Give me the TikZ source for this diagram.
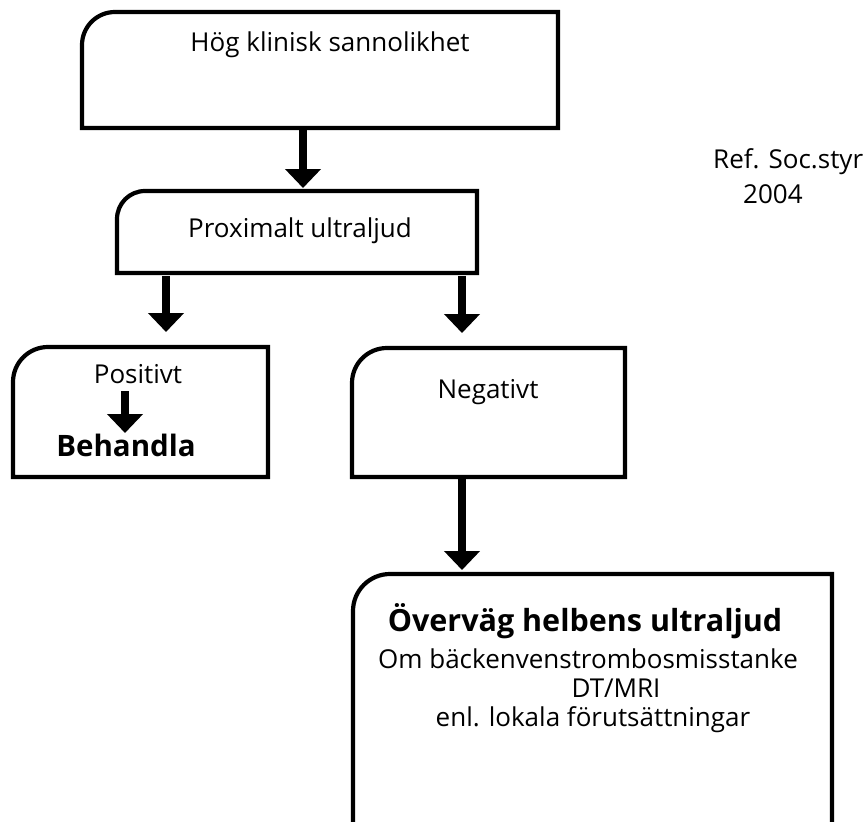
\documentclass[tikz,border=0pt]{standalone}
\usepackage{fontspec}
\setmainfont{Open Sans}
\usetikzlibrary{arrows.meta}

% outline of a box whose top-left corner alone is rounded
\newcommand{\cornerbox}[2]{%
  \draw[boxline] (#1.south west) -- ([yshift=-#2]#1.north west)
    arc[start angle=180, end angle=90, radius=#2]
    -- (#1.north east) -- (#1.south east) -- cycle;}

\begin{document}
\begin{tikzpicture}[x=1pt, y=-1pt,
  boxarea/.style={rectangle, inner sep=0pt, outer sep=0pt},
  boxline/.style={line width=4.2pt, line join=miter},
  txt/.style={anchor=base, inner sep=0pt, font=\fontsize{26}{30}\selectfont},
  btxt/.style={anchor=base, inner sep=0pt, font=\fontsize{29.5}{34}\selectfont\bfseries},
  ttltxt/.style={anchor=base, inner sep=0pt, font=\fontsize{30.5}{35}\selectfont\bfseries},
  reftxt/.style={anchor=base west, inner sep=0pt, font=\fontsize{26}{30}\selectfont},
  arr/.style={line width=8.5pt, -{Triangle[width=35pt, length=19pt]}}]

\clip (0,0) rectangle (866,821);
\fill[white] (0,0) rectangle (866,821);

% box areas
\node[boxarea, minimum width=476pt, minimum height=116pt] (top)  at (320,70) {};
\node[boxarea, minimum width=360pt, minimum height=82pt]  (prox) at (297,232) {};
\node[boxarea, minimum width=255pt, minimum height=130pt] (pos)  at (140.5,412) {};
\node[boxarea, minimum width=273pt, minimum height=129pt] (neg)  at (488.5,412.5) {};
\node[boxarea, minimum width=479pt, minimum height=306pt] (bot)  at (592.5,727) {};

\cornerbox{top}{33pt}
\cornerbox{prox}{28pt}
\cornerbox{pos}{35pt}
\cornerbox{neg}{35pt}
\cornerbox{bot}{37pt}

% texts
\node[txt] (toptxt) at (330,52) {Hög klinisk sannolikhet};
\node[txt] (proxtxt) at (300,237) {Proximalt ultraljud};
\node[txt] (postxt) at (138,383) {Positivt};
\node[btxt] (beh) at (126,456) {Behandla};
\node[txt] (negtxt) at (488,398) {Negativt};
\node[ttltxt] (botttl) at (585,631) {Överväg helbens ultraljud};
\node[txt] (botl1) at (588,668) {Om bäckenvenstrombosmisstanke};
\node[txt] (botl2) at (616,697) {DT/MRI};
\node[txt] (botl3) at (593,726) {enl. lokala förutsättningar};
\node[reftxt] (ref1) at (713,168) {Ref. Soc.styr};
\node[reftxt] (ref2) at (743,203) {2004};

% arrows
\draw[arr, shorten <=1pt, shorten >=3pt] ([xshift=-17pt]top.south) -- ([xshift=6pt]prox.north);
\draw[arr, shorten <=3pt, shorten >=15pt] ([xshift=-131pt]prox.south) -- ([xshift=25.5pt]pos.north);
\draw[arr, shorten <=3pt, shorten >=15pt] ([xshift=165pt]prox.south) -- ([xshift=-26.5pt]neg.north);
\draw[arr, shorten <=1pt, shorten >=4pt] ([xshift=-26.5pt]neg.south) -- ([xshift=-130.5pt]bot.north);
\draw[arr] ([xshift=-13pt, yshift=-8pt]postxt.base) -- ([xshift=-1pt, yshift=23pt]beh.base);

\end{tikzpicture}
\end{document}
